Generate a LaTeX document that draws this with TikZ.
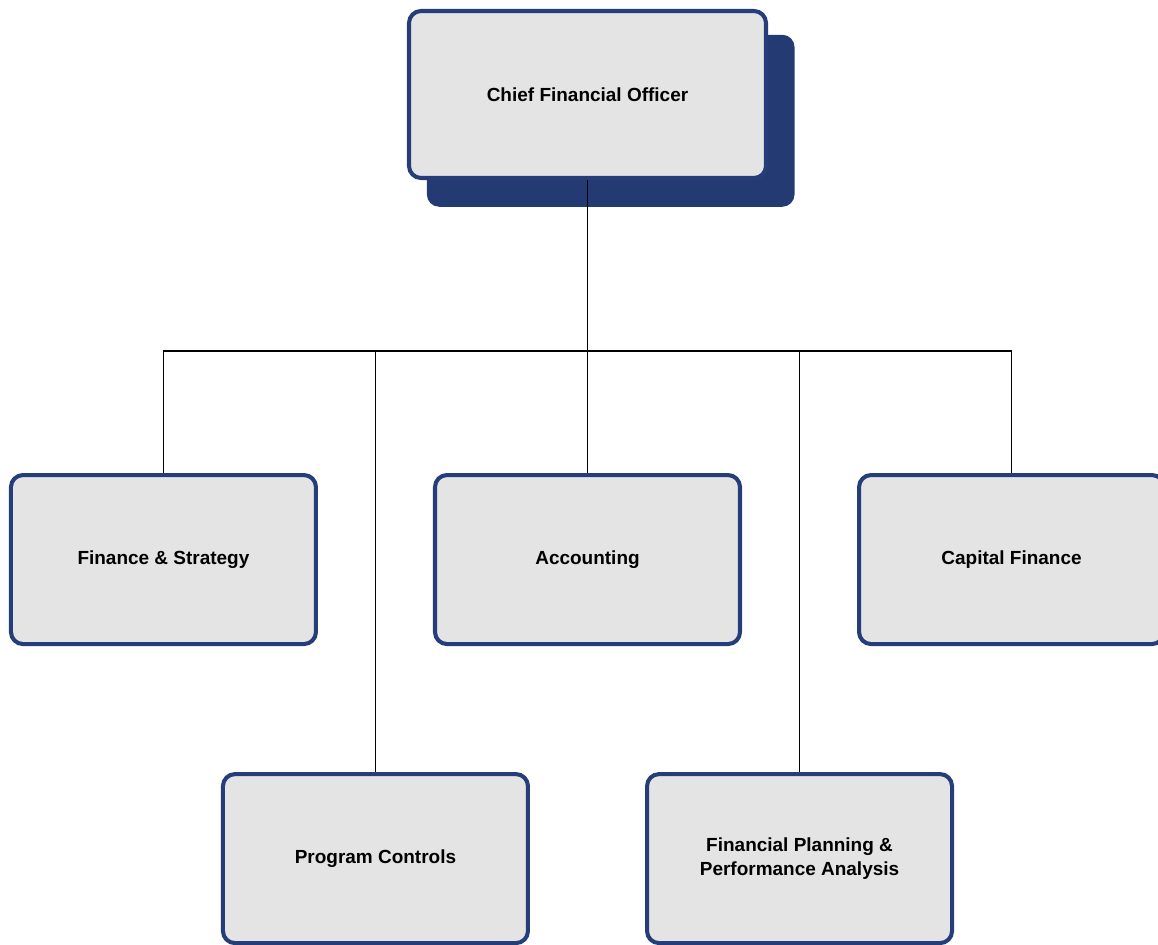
\documentclass[tikz,border=0pt]{standalone}
\usepackage{fontspec}
\setmainfont{Liberation Sans}
\usepackage{xcolor}
\usetikzlibrary{positioning,shadows,calc}
\definecolor{orgnavy}{HTML}{263D7A}
\definecolor{orgshade}{HTML}{233A72}
\definecolor{orgfill}{HTML}{E4E4E4}
\tikzset{
  headbox/.style={rectangle, rounded corners=0.24cm, draw=orgnavy, line width=2.3pt, fill=orgfill, align=center, minimum width=7.14cm, minimum height=3.34cm, font=\fontsize{10.8}{13}\selectfont\bfseries},
  deptbox/.style={rectangle, rounded corners=0.24cm, draw=orgnavy, line width=2.3pt, fill=orgfill, align=center, minimum width=6.1cm, minimum height=3.38cm, font=\fontsize{10.8}{13.5}\selectfont\bfseries},
  orgline/.style={draw=black, line width=0.7pt}
}
\begin{document}
\begin{tikzpicture}
\useasboundingbox (0,0) rectangle (23.16,-18.88);
\node[headbox, drop shadow={shadow xshift=0.45cm, shadow yshift=-0.51cm, shadow scale=1.03, fill=orgshade, opacity=1}] (cfo) at (11.75,-1.89) {Chief Financial Officer};
\node[deptbox, below=5.86cm of cfo] (acc) {Accounting};
\node[deptbox, left=2.3cm of acc] (fin) {Finance \& Strategy};
\node[deptbox, right=2.3cm of acc] (cap) {Capital Finance};
\node[deptbox, below=2.52cm of fin, xshift=4.24cm] (pc) {Program Controls};
\node[deptbox, below=2.52cm of cap, xshift=-4.24cm] (fpa) {Financial Planning \&\\Performance Analysis};
\coordinate[below=3.42cm of cfo.south] (bus);
% reporting lines
\draw[orgline] (cfo.south) -- (bus);
\draw[orgline] (fin.north |- bus) -- (cap.north |- bus);
\foreach \dept in {fin,pc,acc,fpa,cap}
  \draw[orgline] (\dept.north |- bus) -- (\dept.north);
\end{tikzpicture}
\end{document}
